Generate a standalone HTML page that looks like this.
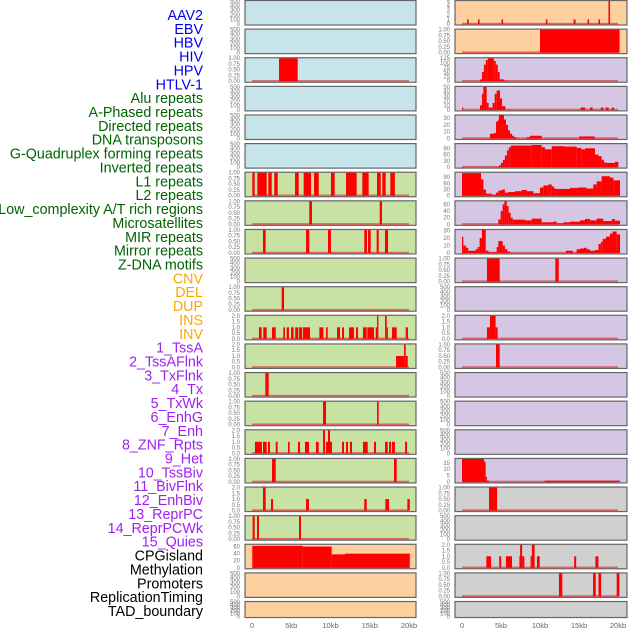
<!DOCTYPE html>
<html><head><meta charset="utf-8">
<style>
html,body{margin:0;padding:0;background:#fff;}
body{width:630px;height:630px;overflow:hidden;font-family:"Liberation Sans",sans-serif;}
</style></head>
<body>
<svg id="chart" width="630" height="630" xmlns="http://www.w3.org/2000/svg" font-family="Liberation Sans, sans-serif"></svg>
<script>
// Row labels
const labelNames = ["AAV2","EBV","HBV","HIV","HPV","HTLV-1","Alu repeats","A-Phased repeats","Directed repeats","DNA transposons","G-Quadruplex forming repeats","Inverted repeats","L1 repeats","L2 repeats","Low_complexity A/T rich regions","Microsatellites","MIR repeats","Mirror repeats","Z-DNA motifs","CNV","DEL","DUP","INS","INV","1_TssA","2_TssAFlnk","3_TxFlnk","4_Tx","5_TxWk","6_EnhG","7_Enh","8_ZNF_Rpts","9_Het","10_TssBiv","11_BivFlnk","12_EnhBiv","13_ReprPC","14_ReprPCWk","15_Quies","CPGisland","Methylation","Promoters","ReplicationTiming","TAD_boundary"];
const labelGroupSizes = [6,13,5,15,5];
const labelGroupColors = ["#0000ee","#006400","#ffa500","#a020f0","#000000"];
const xTickValues = [0,5,10,15,20];
const xTickLabels = ["0","5kb","10kb","15kb","20kb"];

// Segments: [startKb, endKb, value]
const L2 = [[3.44,5.82,1]];
const L6 = [[0.04,0.34,1],[0.68,1.87,1],[2.08,2.51,1],[2.84,3.27,1],[5.48,5.95,1],[6.58,7.53,1],[7.9,8.5,1],[10.06,10.53,1],[11.98,13.33,1],[14.05,14.86,1],[15.93,16.4,1],[16.6,17.03,1],[17.62,18.2,1]];
const L7 = [[7.3,7.64,1],[16.27,16.56,1]];
const L8 = [[1.4,1.74,1],[6.88,7.3,1],[9.68,10.06,1],[14.3,14.65,1],[14.78,15.12,1],[15.88,16.14,1],[16.94,17.33,1]];
const L10 = [[3.78,4.08,1]];
const L11 = [[0.89,1.23,1],[1.44,1.87,1],[2.55,3.02,1],[3.99,4.2,1],[4.42,4.71,1],[4.97,5.3,1],[5.5,5.9,1],[6.0,6.4,1],[6.5,7.39,1],[8.58,9.09,1],[9.43,9.64,1],[10.83,11.21,1],[11.47,11.72,1],[12.36,12.99,1],[13.25,13.5,1],[14.14,14.61,1],[14.69,15.54,1],[15.76,15.93,1],[15.93,16.1,2],[16.95,17.16,2],[17.16,17.29,1],[17.84,18.43,1],[19.58,19.87,1]];
const L12 = [[18.35,19.37,1],[19.37,19.58,2],[19.58,19.84,1]];
const L13 = [[1.7,2.12,1]];
const L14 = [[9.05,9.43,1],[15.93,16.14,1]];
const L15 = [[0.38,1.27,1],[1.4,1.87,1],[2.04,2.29,1],[3.02,3.27,1],[4.59,4.8,1],[5.86,6.12,1],[6.75,7.26,1],[8.15,8.5,1],[9.05,9.3,2],[9.43,9.68,1],[9.68,9.94,2],[9.94,10.19,1],[11.47,11.72,1],[11.98,12.23,1],[12.48,12.74,1],[14.14,14.74,1],[15.54,15.8,1],[16.95,17.29,1],[17.46,17.71,1],[17.84,18.2,1],[19.5,19.75,1]];
const L16 = [[2.55,3.02,1],[18.09,18.43,1]];
const L17 = [[1.4,1.74,2],[2.42,2.68,1],[6.88,7.26,1],[14.3,14.61,1],[16.99,17.46,1],[19.79,20.1,1]];
const L18 = [[0.08,0.34,1],[0.64,0.89,1],[5.99,6.24,1]];
const L19 = [[0.04,6.46,62],[6.46,10.15,60],[10.15,11.85,38],[11.85,20.1,40]];

const R0 = [[0.65,0.85,1],[2.05,2.25,1],[5.07,5.27,1],[10.75,10.95,1],[14.3,14.56,1],[16.1,16.3,1],[17.5,17.7,1],[18.78,18.98,5]];
const R1 = [[10.0,20.2,1]];
const R2 = [[2.31,2.56,10],[2.56,2.81,50],[2.81,3.06,90],[3.06,3.31,115],[3.31,4.08,125],[4.08,4.33,110],[4.33,4.58,90],[4.58,4.83,50],[4.83,5.35,10],[5.35,5.94,3]];
const R3 = [[0.0,0.1,5],[2.31,2.56,10],[2.56,2.74,35],[2.74,3.16,50],[3.16,3.42,15],[3.42,3.93,5],[3.93,4.19,15],[4.19,4.44,35],[4.44,4.87,42],[4.87,5.13,25],[5.13,5.56,8],[15.2,15.8,5],[16.4,16.76,5],[17.8,18.1,5],[18.4,18.8,5],[19.2,19.5,5]];
const R4 = [[3.59,4.1,7],[4.1,4.36,8],[4.36,4.62,25],[4.62,4.74,28],[4.74,5.38,35],[5.38,5.64,28],[5.64,5.9,20],[5.9,6.15,12],[6.15,6.41,7],[6.41,6.67,4],[6.67,7.0,2],[8.29,8.72,2],[8.72,10.22,4],[15.0,17.0,3]];
const R5 = [[4.74,4.99,8],[4.99,5.25,20],[5.25,5.5,35],[5.5,5.76,55],[5.76,6.0,80],[6.0,6.27,95],[6.27,6.79,103],[6.79,8.93,103],[8.93,10.21,106],[10.21,10.64,95],[10.64,11.5,85],[11.5,13.2,100],[13.2,14.7,98],[14.7,15.3,92],[15.3,15.77,85],[15.77,17.05,90],[17.05,17.5,60],[17.5,17.9,52],[17.9,18.2,35],[18.2,18.5,22],[18.5,19.6,20],[19.6,20.05,25]];
const R6 = [[0,2.44,110],[2.44,2.74,80],[2.74,3.08,30],[3.08,3.8,10],[3.8,4.36,5],[4.36,4.66,15],[4.66,5.08,25],[5.08,5.5,30],[5.5,5.94,15],[5.94,6.8,18],[6.8,7.65,22],[7.65,8.29,28],[8.29,9.15,22],[9.15,10.0,12],[10.0,10.43,40],[10.43,11.07,50],[11.07,11.5,55],[11.5,11.8,45],[11.8,12.1,35],[12.1,13.85,33],[13.85,14.9,38],[14.9,16.0,40],[16.0,16.84,35],[16.84,17.27,55],[17.27,17.9,70],[17.9,18.97,95],[18.97,19.4,88],[19.4,20.26,75]];
const R7 = [[4.66,4.96,15],[4.96,5.21,40],[5.21,5.43,60],[5.43,5.73,70],[5.73,5.98,55],[5.98,6.24,35],[6.24,6.5,20],[6.5,8.07,14],[8.07,8.93,12],[8.93,10.21,17],[10.21,11.7,6],[11.7,12.14,8],[12.14,13.0,3],[13.0,13.85,6],[13.85,15.13,8],[15.13,15.77,12],[15.77,16.4,16],[16.4,17.27,12],[17.27,18.12,17],[18.12,19.2,10],[19.2,19.6,16],[19.6,20.26,11]];
const R8 = [[0,0.17,22],[0.17,0.5,10],[0.5,0.8,7],[0.8,1.74,3],[1.74,2.0,5],[2.0,2.26,8],[2.26,2.56,20],[2.56,3.04,31],[3.04,3.4,3],[3.4,4.44,1],[4.44,4.66,8],[4.66,5.21,16],[5.21,5.5,10],[5.5,5.8,5],[5.8,6.15,2],[13.33,14.2,3],[14.7,15.13,5],[15.13,15.64,6],[15.64,16.0,7],[16.0,16.4,5],[16.4,17.05,3],[17.05,17.5,4],[17.5,17.8,12],[17.8,18.04,15],[18.04,18.46,19],[18.46,18.97,22],[18.97,19.3,26],[19.3,19.83,29],[19.83,20.26,25]];
const R9 = [[3.2,4.83,1],[11.97,12.4,1]];
const R11 = [[3.2,3.59,1],[3.59,4.31,2],[4.31,4.57,1]];
const R12 = [[4.36,4.83,1]];
const R16 = [[0,2.82,18],[2.82,3.03,16],[3.03,3.2,4],[3.2,3.46,1],[10.59,20.26,1]];
const R17 = [[3.46,4.5,1]];
const R19 = [[3.12,3.73,1],[4.77,5.03,1],[5.63,6.41,1],[7.36,7.45,1],[7.45,7.71,2],[7.71,8.0,1],[8.79,8.96,1],[8.96,9.31,2],[9.61,9.96,1],[14.38,14.64,1],[17.1,17.49,1]];
const R20 = [[12.43,12.86,1],[16.8,17.15,1],[17.5,17.84,1],[19.83,20.18,1]];

// Tick sets
const T500 = [0,100,200,300,400,500];
const T1 = [0,0.25,0.5,0.75,1];
const T1L = ["0.00","0.25","0.50","0.75","1.00"];
const T2 = [0,0.5,1,1.5,2];
const T2L = ["0.0","0.5","1.0","1.5","2.0"];

const BLUE="#c7e4eb", GREEN="#c8e2a3", ORANGE="#ffd09f", PURPLE="#d5c6e3", GRAY="#d0d0d0";

function P(col,row,bg,ymax,ticks,tlabels,segs){return {col,row,bg,ymax,ticks,tlabels,segs};}
const E = (c,r,bg)=>P(c,r,bg,500,T500,null,null);
const panels = [
 E(0,0,BLUE),E(0,1,BLUE),P(0,2,BLUE,1,T1,T1L,L2),E(0,3,BLUE),E(0,4,BLUE),E(0,5,BLUE),
 P(0,6,GREEN,1,T1,T1L,L6),P(0,7,GREEN,1,T1,T1L,L7),P(0,8,GREEN,1,T1,T1L,L8),E(0,9,GREEN),
 P(0,10,GREEN,1,T1,T1L,L10),P(0,11,GREEN,2,T2,T2L,L11),P(0,12,GREEN,2,T2,T2L,L12),
 P(0,13,GREEN,1,T1,T1L,L13),P(0,14,GREEN,1,T1,T1L,L14),P(0,15,GREEN,2,T2,T2L,L15),
 P(0,16,GREEN,1,T1,T1L,L16),P(0,17,GREEN,2,T2,T2L,L17),P(0,18,GREEN,1,T1,T1L,L18),
 P(0,19,ORANGE,65,[0,20,40,60],null,L19),E(0,20,ORANGE),E(0,21,ORANGE),
 P(1,0,ORANGE,5,[0,1,2,3,4,5],null,R0),P(1,1,ORANGE,1,T1,T1L,R1),
 P(1,2,PURPLE,125,[0,25,50,75,100,125],null,R2),P(1,3,PURPLE,50,[0,10,20,30,40,50],null,R3),
 P(1,4,PURPLE,34,[0,10,20,30],null,R4),P(1,5,PURPLE,110,[0,30,60,90],null,R5),
 P(1,6,PURPLE,112,[0,30,60,90],null,R6),P(1,7,PURPLE,69,[0,20,40,60],null,R7),
 P(1,8,PURPLE,31,[0,10,20,30],null,R8),P(1,9,PURPLE,1,T1,T1L,R9),E(1,10,PURPLE),
 P(1,11,PURPLE,2,T2,T2L,R11),P(1,12,PURPLE,1,T1,T1L,R12),E(1,13,PURPLE),E(1,14,PURPLE),E(1,15,PURPLE),
 P(1,16,PURPLE,18,[0,5,10,15],null,R16),P(1,17,GRAY,1,T1,T1L,R17),E(1,18,GRAY),
 P(1,19,GRAY,2,T2,T2L,R19),P(1,20,GRAY,1,T1,T1L,R20),E(1,21,GRAY)
];

const svg = document.getElementById('chart');
const NS = "http://www.w3.org/2000/svg";
function mk(tag, attrs){const e=document.createElementNS(NS,tag);for(const k in attrs)e.setAttribute(k,attrs[k]);return e;}

const colLeft=[245,455], colRight=[416,627], x0=[252,462], pxPerKb=[7.85,7.8];
const rowPitch=28.62;
function rowTop(r){return 0.5+r*rowPitch;}
function rowH(r){return r===21?16:24.5;}
function xScale(c,kb){return x0[c]+kb*pxPerKb[c];}

// labels
let li=0;
labelGroupSizes.forEach((n,g)=>{
  for(let k=0;k<n;k++){
    const t=mk('text',{x:203,y:15+li*13.86+5,'text-anchor':'end','font-size':14.3,fill:labelGroupColors[g]});
    t.textContent=labelNames[li];
    
    
    svg.appendChild(t);
    li++;
  }
});

panels.forEach(p=>{
  const g=mk('g',{});
  
  
  const top=rowTop(p.row), h=rowH(p.row), L=colLeft[p.col], R=colRight[p.col];
  const bot=top+h;
  const bg=mk('rect',{x:L,y:top,width:R-L,height:h,fill:p.bg,stroke:'#666',"stroke-width":1.2});
  
  
  g.appendChild(bg);
  const yS=v=>bot-1-(v/p.ymax)*(h-1.5);
  p.ticks.forEach((tv,i)=>{
    const t=mk('text',{x:L-5,y:yS(tv)+2,'text-anchor':'end','font-size':6,fill:'#777'});
    t.textContent=p.tlabels?p.tlabels[i]:String(tv);
    
    
    g.appendChild(t);
  });
  if(p.segs){
    const base=mk('rect',{x:xScale(p.col,0),y:bot-2.2,width:xScale(p.col,20)-xScale(p.col,0),height:1.8,fill:'rgba(220,60,60,0.7)'});
    
    
    g.appendChild(base);
    p.segs.forEach(s=>{
      const xa=xScale(p.col,s[0]), xb=xScale(p.col,s[1]);
      const yt=yS(s[2]);
      const b=mk('rect',{x:xa,y:yt,width:Math.max(1.2,xb-xa),height:bot-1-yt,fill:'#ff0000'});
      
      
      g.appendChild(b);
    });
  }
  svg.appendChild(g);
});

// x axes
[0,1].forEach(c=>{
  xTickValues.forEach((v,i)=>{
    const t=mk('text',{x:xScale(c,v),y:628,'text-anchor':'middle','font-size':7.5,fill:'#666'});
    t.textContent=xTickLabels[i];
    
    
    svg.appendChild(t);
  });
});
</script>
</body></html>
